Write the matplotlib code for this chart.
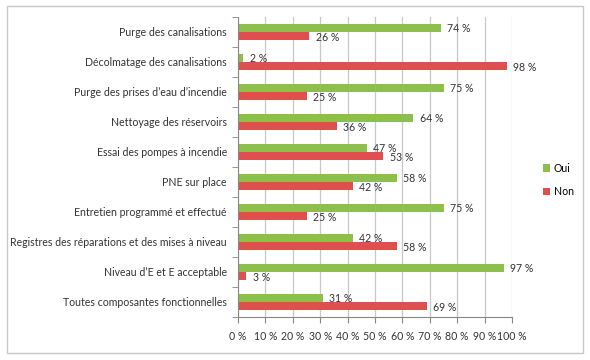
import matplotlib.pyplot as plt
import numpy as np
from matplotlib.patches import Rectangle

categories = [
    "Purge des canalisations",
    "Décolmatage des canalisations",
    "Purge des prises d\u2019eau d\u2019incendie",
    "Nettoyage des réservoirs",
    "Essai des pompes à incendie",
    "PNE sur place",
    "Entretien programmé et effectué",
    "Registres des réparations et des mises à niveau",
    "Niveau d\u2019E et E acceptable",
    "Toutes composantes fonctionnelles",
]
oui = [74, 2, 75, 64, 47, 58, 75, 42, 97, 31]
non = [26, 98, 25, 36, 53, 42, 25, 58, 3, 69]

plt.rcParams['font.family'] = ['Lato', 'DejaVu Sans']

fig = plt.figure(figsize=(5.9, 3.6), dpi=100)
ax = fig.add_axes([238 / 590, 1 - 317 / 360, (512 - 238) / 590, (317 - 17) / 360])

green = '#8cbf4c'
red = '#e04f4f'
h = 0.28
y = np.arange(len(categories))
bo = ax.barh(y - h / 2, oui, height=h, color=green, label='Oui')
bn = ax.barh(y + h / 2, non, height=h, color=red, label='Non')

for bars in (bo, bn):
    for b in bars:
        w = b.get_width()
        ax.text(w + 2.3, b.get_y() + b.get_height() / 2 + 0.04, f'{w:.0f} %',
                va='center', ha='left', fontsize=7.6, color='#333333')

ax.set_ylim(len(categories) - 0.5, -0.5)
ax.set_xlim(0, 100)
ax.set_xticks(np.arange(0, 101, 10))
ax.set_xticklabels([f'{v} %' for v in range(0, 101, 10)], fontsize=7.6, color='#333333')
ax.set_yticks(y)
ax.set_yticklabels(categories, fontsize=7.6, color='#333333')
ax.set_yticks(np.arange(-0.5, len(categories), 1), minor=True)
ax.tick_params(axis='y', which='major', length=0, pad=8)
ax.tick_params(axis='y', which='minor', length=4, color='#888888')
ax.tick_params(axis='x', length=4, color='#888888', pad=6)
ax.grid(axis='x', color='#c8c8c8', linewidth=0.9)
ax.set_axisbelow(True)
for s in ('top', 'right'):
    ax.spines[s].set_visible(False)
for s in ('left', 'bottom'):
    ax.spines[s].set_color('#888888')

fig.legend(handles=[bo, bn], labels=['Oui', 'Non'], loc='center left',
           bbox_to_anchor=(543 / 590, 1 - 180 / 360), frameon=False,
           fontsize=7.6, handlelength=0.7, handleheight=0.7, handletextpad=0.3,
           labelspacing=1.2, borderaxespad=0, borderpad=0)

fig.patches.append(Rectangle((7 / 590, 1 - 353 / 360), 576 / 590, 347 / 360,
                             transform=fig.transFigure, fill=False,
                             edgecolor='#c8c8c8', linewidth=1))

fig.savefig('out.png', dpi=100)
